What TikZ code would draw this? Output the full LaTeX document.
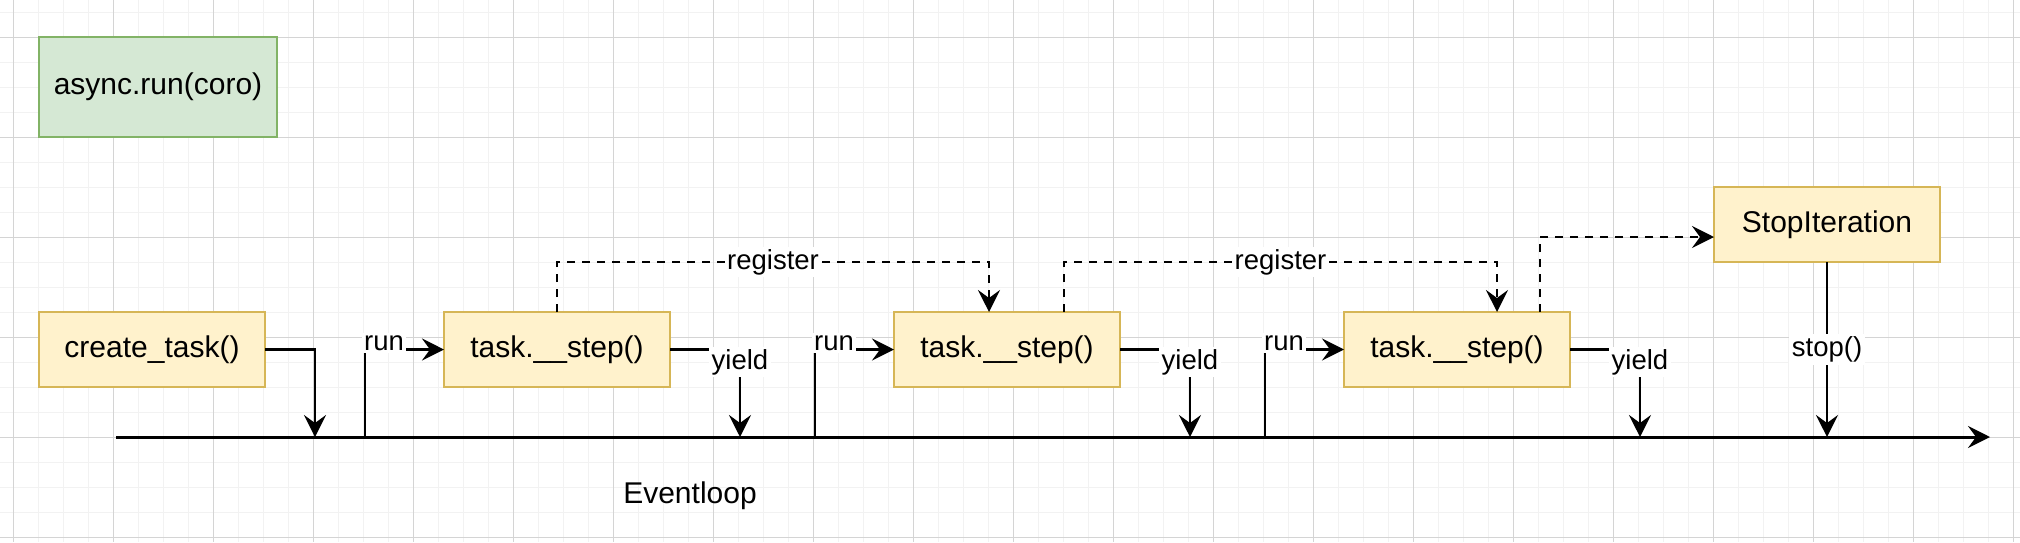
\documentclass[tikz,border=0pt]{standalone}
\usepackage{fontspec}
\setmainfont{Liberation Sans}
\usetikzlibrary{arrows.meta,positioning,calc}

\definecolor{notefill}{HTML}{FFF2CC}
\definecolor{noteline}{HTML}{D6B656}
\definecolor{runfill}{HTML}{D5E8D4}
\definecolor{runline}{HTML}{82B366}
\definecolor{gridminor}{HTML}{F2F2F2}
\definecolor{gridmajor}{HTML}{D4D4D4}

\begin{document}
\begin{tikzpicture}[
    x=0.4pt,
    y=-0.4pt,
    node distance=89.6pt,
    taskbox/.style={
        rectangle,
        draw=noteline,
        fill=notefill,
        line width=1pt,
        outer sep=0pt,
        inner sep=0pt,
        minimum width=90.4pt,
        minimum height=30pt,
        font=\fontsize{12}{14}\selectfont
    },
    startbox/.style={
        taskbox,
        draw=runline,
        fill=runfill,
        minimum width=95.2pt,
        minimum height=40pt
    },
    flow/.style={
        -{Stealth[length=8.8pt,width=8.8pt,inset=3.2pt]},
        line width=1pt
    },
    regflow/.style={
        flow,
        dash pattern=on 3.2pt off 2.8pt
    },
    edgelabel/.style={
        fill=white,
        inner sep=1pt,
        font=\fontsize{11}{13}\selectfont
    },
    minorline/.style={draw=gridminor, line width=0.4pt},
    majorline/.style={draw=gridmajor, line width=0.4pt}
]

% =========================
% Page and grid
% =========================

\useasboundingbox (0,0) rectangle (2020,542);
\fill[white] (0,0) rectangle (2020,542);

\foreach \gx in {13,38,...,2013}
    \draw[minorline] (\gx,0) -- (\gx,542);
\foreach \gy in {12,37,...,537}
    \draw[minorline] (0,\gy) -- (2020,\gy);
\foreach \gx in {13,113,...,2013}
    \draw[majorline] (\gx,0) -- (\gx,542);
\foreach \gy in {37,137,...,537}
    \draw[majorline] (0,\gy) -- (2020,\gy);

% =========================
% Boxes
% =========================

\node[startbox] (asyncrun) at (158,87)
{async.run(coro)};

\node[taskbox] (create) at (152,349.5)
{create\_task()};

\node[taskbox] (task1) at (557,349.5)
{task.\_\_step()};

\node[taskbox, right=of task1] (task2)
{task.\_\_step()};

\node[taskbox, right=of task2] (task3)
{task.\_\_step()};

\node[taskbox] (stopit) at (1827,224.5)
{StopIteration};

% =========================
% Event loop line
% =========================

\coordinate (loopstart) at (116,437);
\coordinate (loopend) at (1990,437);

\draw[flow, line width=1.2pt] (loopstart) -- (loopend);

\node[font=\fontsize{12}{14}\selectfont] (looplabel) at (690,496)
{Eventloop};

% =========================
% Task steps on the loop
% =========================

\coordinate (spawnfoot) at (315,437);
\draw[flow] (create.east) -| (spawnfoot);

\foreach \k/\rx/\yx in {1/365/740, 2/815/1190, 3/1265/1640} {
    \coordinate (runfoot\k) at (\rx,437);
    \coordinate (yieldfoot\k) at (\yx,437);
    \draw[flow] (runfoot\k) |- (task\k.west);
    \draw[flow] (task\k.east) -| (yieldfoot\k);
    \node[edgelabel] (runlabel\k) at (\rx+19,343) {run};
    \node[edgelabel] (yieldlabel\k) at (\yx,362) {yield};
}

% =========================
% Register and stop
% =========================

\draw[regflow]
(task1.north)
-- ++(0,-50)
-| node[edgelabel, pos=0.25] {register}
($(task2.north)+(-18,0)$);

\draw[regflow]
($(task2.north)+(57,0)$)
-- ++(0,-50)
-| node[edgelabel, pos=0.25] {register}
($(task3.north)+(40,0)$);

\draw[regflow]
($(task3.north)+(83,0)$)
|- ($(stopit.west)+(0,12.5)$);

\coordinate (stopfoot) at (stopit.south |- loopend);
\draw[flow] (stopit.south) -- node[edgelabel] {stop()} (stopfoot);

\end{tikzpicture}
\end{document}
